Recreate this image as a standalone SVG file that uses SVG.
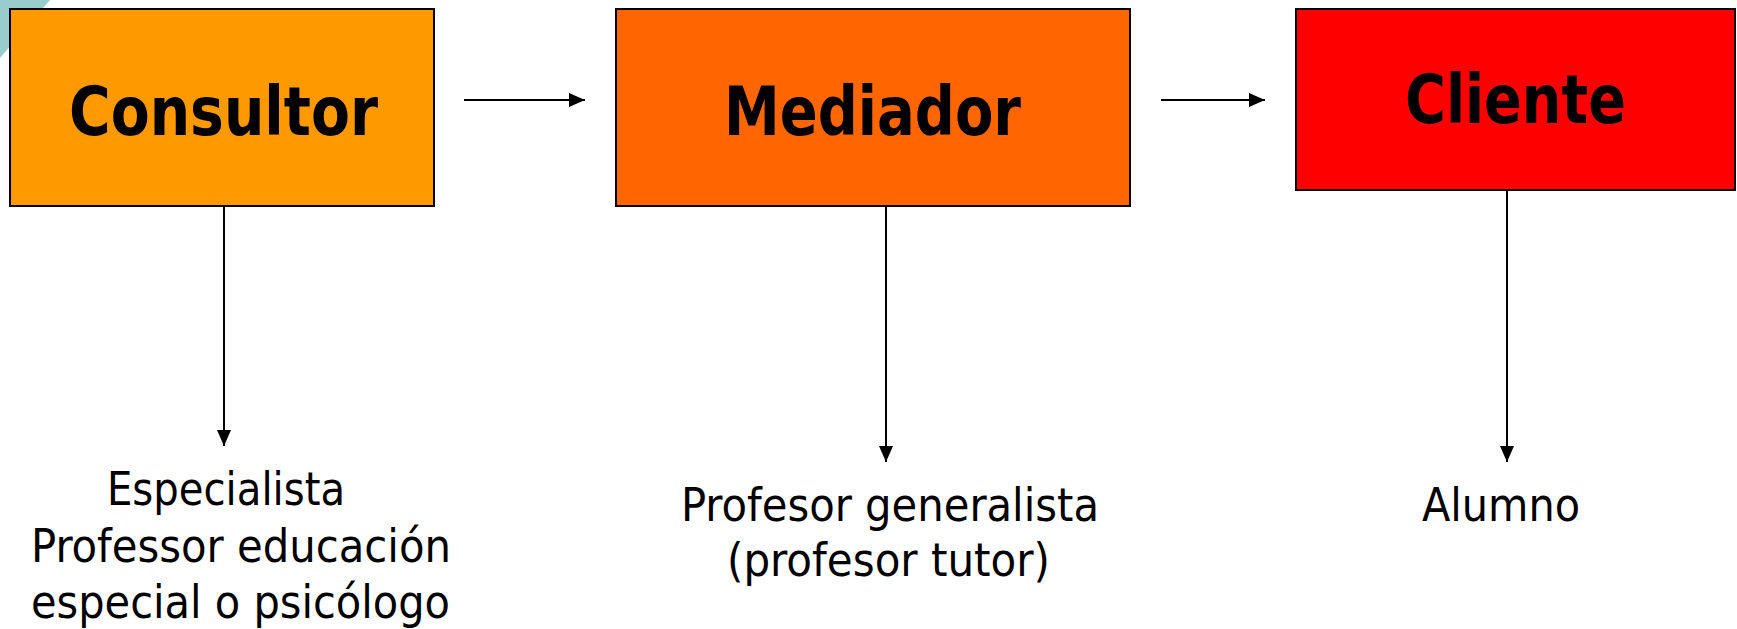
<svg xmlns="http://www.w3.org/2000/svg" width="1737" height="629" viewBox="0 0 1737 629">
<style>
.box{stroke:#000;stroke-width:2}
.title{font-family:"DejaVu Sans Condensed","DejaVu Sans",sans-serif;font-weight:bold;font-size:68px;fill:#000}
.lbl{font-family:"DejaVu Sans Condensed","DejaVu Sans",sans-serif;font-size:46px;fill:#000}
.conn{stroke:#000;stroke-width:2;fill:none}
</style>
<defs>
<marker id="arr" markerUnits="userSpaceOnUse" markerWidth="16" markerHeight="14" refX="16" refY="7" orient="auto">
<path d="M0,0 L16,7 L0,14 Z" fill="#000"/>
</marker>
</defs>
<rect width="1737" height="629" fill="#fff"/>
<polygon points="0,0 50,0 0,58" fill="#99CCCC"/>
<g id="consultor">
<rect class="box" x="10" y="9" width="424" height="197" fill="#FF9900"/>
<text class="title" x="69" y="135" textLength="309" lengthAdjust="spacingAndGlyphs">Consultor</text>
</g>
<g id="mediador">
<rect class="box" x="616" y="9" width="514" height="197" fill="#FF6600"/>
<text class="title" x="724" y="135" textLength="297" lengthAdjust="spacingAndGlyphs">Mediador</text>
</g>
<g id="cliente">
<rect class="box" x="1296" y="9" width="439" height="181" fill="#FF0000"/>
<text class="title" x="1405" y="123" textLength="221" lengthAdjust="spacingAndGlyphs">Cliente</text>
</g>
<g id="especialista">
<text class="lbl" x="107" y="505" textLength="238" lengthAdjust="spacingAndGlyphs">Especialista</text>
<text class="lbl" x="31" y="562" textLength="420" lengthAdjust="spacingAndGlyphs">Professor educación</text>
<text class="lbl" x="31" y="618" textLength="419" lengthAdjust="spacingAndGlyphs">especial o psicólogo</text>
</g>
<g id="profesor">
<text class="lbl" x="681" y="521" textLength="418" lengthAdjust="spacingAndGlyphs">Profesor generalista</text>
<text class="lbl" x="727" y="576" textLength="323" lengthAdjust="spacingAndGlyphs">(profesor tutor)</text>
</g>
<g id="alumno">
<text class="lbl" x="1422" y="521" textLength="158" lengthAdjust="spacingAndGlyphs">Alumno</text>
</g>
<g id="connectors">
<line class="conn" x1="464" y1="100" x2="585" y2="100" marker-end="url(#arr)"/>
<line class="conn" x1="1161" y1="100" x2="1265" y2="100" marker-end="url(#arr)"/>
<line class="conn" x1="224" y1="206" x2="224" y2="446" marker-end="url(#arr)"/>
<line class="conn" x1="886" y1="206" x2="886" y2="462" marker-end="url(#arr)"/>
<line class="conn" x1="1507" y1="190" x2="1507" y2="462" marker-end="url(#arr)"/>
</g>
</svg>
